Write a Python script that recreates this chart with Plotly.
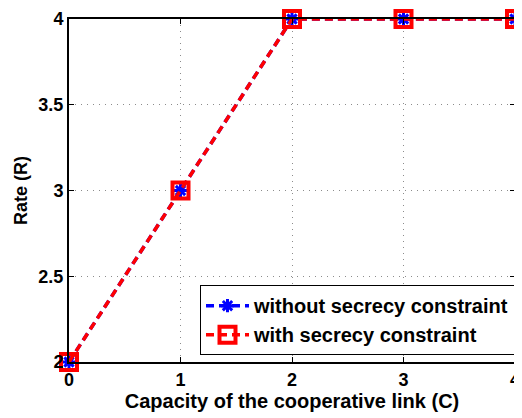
import plotly.graph_objects as go

# ==========================
# DATA
# ==========================
capacity = [0, 1, 2, 3, 4]
rate_without = [2, 3, 4, 4, 4]
rate_with = [2, 3, 4, 4, 4]
y_ticks = [2, 2.5, 3, 3.5, 4]

FONT = "Liberation Sans, Arial, sans-serif"

fig = go.Figure()

fig.add_trace(go.Scatter(
    x=capacity, y=rate_without,
    mode='lines+markers', name='<b>without secrecy constraint</b>',
    line=dict(width=3.5, color='blue', dash='8px,5px'),
    marker=dict(symbol='asterisk-open', size=11, color='blue', line=dict(width=3, color='blue')),
    cliponaxis=False
))

fig.add_trace(go.Scatter(
    x=capacity, y=rate_with,
    mode='lines+markers', name='<b>with secrecy constraint</b>',
    line=dict(width=3.5, color='red', dash='8px,5px'),
    marker=dict(symbol='square-open', size=16, color='red', line=dict(width=4, color='red')),
    cliponaxis=False
))

fig.update_xaxes(
    range=[0, 4], tickvals=capacity, ticktext=['<b>%d</b>' % v for v in capacity],
    showgrid=True, gridcolor='#8c8c8c', griddash='1px,5px', gridwidth=1,
    showline=True, linecolor='black', linewidth=2, mirror='ticks',
    ticks='inside', ticklen=5, tickcolor='black', zeroline=False,
    automargin=False, ticklabeloverflow='allow',
    tickfont=dict(size=18, color='black', family=FONT),
    title=dict(text='<b>Capacity of the cooperative link (C)</b>', standoff=2,
               font=dict(size=20, color='black', family=FONT))
)

fig.update_yaxes(
    range=[2, 4], tickvals=y_ticks,
    ticktext=['<b>%g</b>' % v for v in y_ticks],
    showgrid=True, gridcolor='#8c8c8c', griddash='1px,5px', gridwidth=1,
    showline=True, linecolor='black', linewidth=2, mirror='ticks',
    ticks='inside', ticklen=5, tickcolor='black', zeroline=False,
    automargin=False, ticklabeloverflow='allow',
    tickfont=dict(size=18, color='black', family=FONT),
    title=dict(text='<b>Rate (R)</b>', standoff=6,
               font=dict(size=18, color='black', family=FONT))
)

# page body has an 8px margin, so the figure is sized/offset to compensate
fig.update_layout(
    width=514, height=410,
    margin=dict(l=61, r=7, t=11, b=56),
    plot_bgcolor='white',
    paper_bgcolor='white',
    font=dict(family=FONT, color='black'),
    legend=dict(
        x=1, xanchor='right', y=0.02, yanchor='bottom',
        bgcolor='white', bordercolor='black', borderwidth=1,
        font=dict(size=20, color='black', family=FONT),
        tracegroupgap=0, itemwidth=43
    )
)

fig.write_html("out.html")
